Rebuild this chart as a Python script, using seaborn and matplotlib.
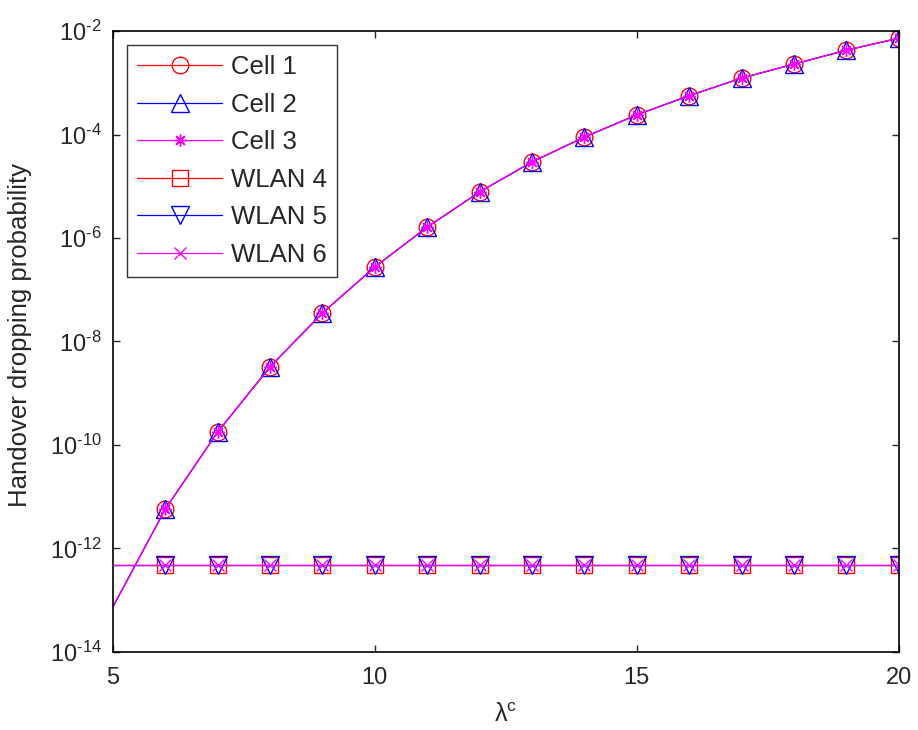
import numpy as np
import pandas as pd
import matplotlib
matplotlib.use("Agg")
import matplotlib.pyplot as plt
import matplotlib.ticker as mticker
import seaborn as sns

# Arrival rate of cellular traffic
lam = [5, 6, 7, 8, 9, 10, 11, 12, 13, 14, 15, 16, 17, 18, 19, 20]

# Handover dropping probability (log10) for the cellular networks
cell_log = [-13.13, -11.24, -9.75, -8.49, -7.45, -6.56, -5.79, -5.11,
            -4.53, -4.05, -3.62, -3.25, -2.91, -2.64, -2.37, -2.14]
# WLANs stay flat
wlan_log = [-12.32] * 16

series_names = ["Cell 1", "Cell 2", "Cell 3", "WLAN 4", "WLAN 5", "WLAN 6"]
series_colors = ["#ff0000", "#0000ff", "#ff00ff", "#ff0000", "#0000ff", "#ff00ff"]
series_markers = ["o", "^", (8, 2, 0), "s", "v", "x"]
series_msize = [12, 13, 9, 11, 13, 8]

df = pd.DataFrame({"lam": lam,
                   "Cell 1": 10.0 ** np.array(cell_log),
                   "Cell 2": 10.0 ** np.array(cell_log),
                   "Cell 3": 10.0 ** np.array(cell_log),
                   "WLAN 4": 10.0 ** np.array(wlan_log),
                   "WLAN 5": 10.0 ** np.array(wlan_log),
                   "WLAN 6": 10.0 ** np.array(wlan_log)})

sns.set_style("ticks")
plt.rcParams["font.family"] = ["Liberation Sans", "DejaVu Sans"]
plt.rcParams["mathtext.fontset"] = "custom"
plt.rcParams["mathtext.rm"] = "Liberation Sans"
plt.rcParams["mathtext.it"] = "Liberation Sans:italic"
plt.rcParams["mathtext.default"] = "regular"

fig = plt.figure(figsize=(9.18, 7.3), dpi=100)
ax = fig.add_axes([0.123, 0.107, 0.856, 0.8505])

for name, col, mk, ms in zip(series_names, series_colors, series_markers, series_msize):
    sns.lineplot(data=df, x="lam", y=name, ax=ax, color=col, marker=mk,
                 markersize=ms, markerfacecolor="none", markeredgecolor=col,
                 markeredgewidth=1.0, linewidth=0.9, markevery=slice(1, None),
                 label=name)

ax.set_yscale("log")
ax.set_xlim(5, 20)
ax.set_ylim(1e-14, 1e-2)
ax.set_xticks([5, 10, 15, 20])
ax.set_yticks([10.0 ** k for k in range(-14, -1, 2)])
ax.yaxis.set_minor_locator(mticker.NullLocator())


def decade_label(v, pos):
    k = int(round(np.log10(v)))
    return r"$10^{\text{-}%d}$" % (-k)


ax.yaxis.set_major_formatter(mticker.FuncFormatter(decade_label))
ax.tick_params(axis="both", which="major", direction="in", top=True, right=True,
               length=5, width=1, labelsize=17)
ax.tick_params(axis="x", pad=11)
ax.tick_params(axis="y", pad=8)
for sp in ax.spines.values():
    sp.set_linewidth(1.2)
    sp.set_color("black")

ax.set_xlabel(r"$\lambda^{c}$", fontsize=18)
ax.xaxis.set_label_coords(0.5, -0.083)
ax.set_ylabel("Handover dropping probability", fontsize=18.5)
ax.yaxis.set_label_coords(-0.103, 0.51)

leg = ax.legend(loc="upper left", bbox_to_anchor=(0.018, 0.978), fontsize=18.5,
                frameon=True, fancybox=False, edgecolor="black",
                handlelength=3.3, borderpad=0.4, labelspacing=0.53,
                handletextpad=0.35, borderaxespad=0.0)
leg.get_frame().set_linewidth(1.0)

fig.savefig("out.png", dpi=100, facecolor="white")
